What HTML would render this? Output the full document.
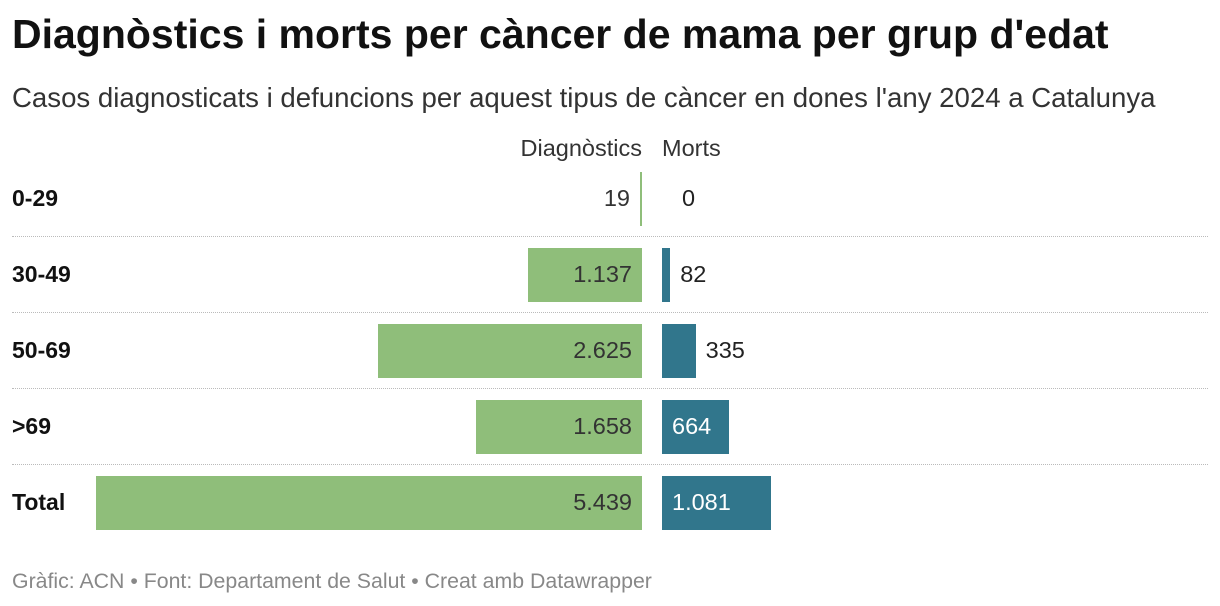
<!DOCTYPE html>
<html><head><meta charset="utf-8"><style>
body{margin:0;width:1220px;height:606px;background:#fff;font-family:"Liberation Sans",sans-serif;color:#1d1d1d;position:relative;overflow:hidden}
.a{position:absolute;white-space:nowrap}
</style></head><body>
<div class="a" style="left:12px;top:11px;font-size:41px;font-weight:bold;color:#111">Diagnòstics i morts per càncer de mama per grup d'edat</div>
<div class="a" style="left:12px;top:82px;font-size:27.6px;color:#333">Casos diagnosticats i defuncions per aquest tipus de càncer en dones l'any 2024 a Catalunya</div>
<div class="a" style="right:578px;top:135px;font-size:23.5px;color:#333">Diagnòstics</div>
<div class="a" style="left:662px;top:135px;font-size:23.5px;color:#333">Morts</div>
<div id="chart"></div>
<div class="a" style="left:12px;top:569px;font-size:21.3px;color:#888">Gràfic: ACN • Font: Departament de Salut • Creat amb Datawrapper</div>
<script>
const categories=["0-29","30-49","50-69",">69","Total"];
const diagnostics=[19,1137,2625,1658,5439];
const deaths=[0,82,335,664,1081];
const diagLabels=["19","1.137","2.625","1.658","5.439"];
const deathLabels=["0","82","335","664","1.081"];
const c=document.getElementById('chart');
const sx=v=>v*546/5439;
function mk(css,txt){const d=document.createElement('div');d.className='a';d.style.cssText=css;if(txt!==undefined)d.textContent=txt;c.appendChild(d);return d;}
categories.forEach((cat,i)=>{
  const top=172+i*76, mid=top+27;
  let l=mk(`left:12px;top:${mid-14}px;font-size:23px;font-weight:bold;color:#111`,cat);
  
  
  const dw=Math.max(2,sx(diagnostics[i]));
  let b=mk(`left:${642-dw}px;top:${top}px;width:${dw}px;height:54px;background:#8fbe7a`);
  
  
  let dl=mk(`right:${1220-632+(dw<60?2:0)}px;top:${mid-14}px;font-size:23.5px;color:#333`,diagLabels[i]);
  
  
  const mw=sx(deaths[i]);
  if(mw>0){let m=mk(`left:662px;top:${top}px;width:${mw}px;height:54px;background:#31768c`);
  
  }
  const inside=mw>60;
  let ml=mk(`left:${inside?672:662+mw+10+(mw===0?10:0)}px;top:${mid-14}px;font-size:23.5px;color:${inside?'#fff':'#222'}`,deathLabels[i]);
  
  
  if(i<categories.length-1){let s=mk(`left:12px;top:${top+64}px;width:1196px;height:0;border-top:1px dotted #bbb`);
  
  }
});
</script>
</body></html>
